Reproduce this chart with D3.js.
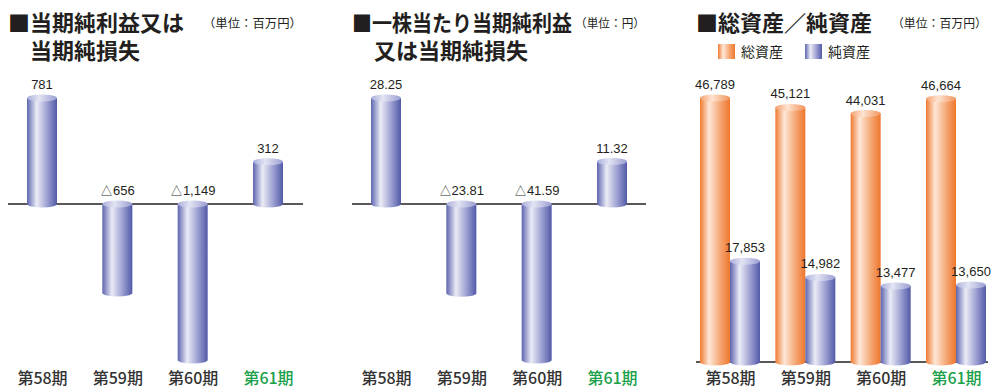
<!DOCTYPE html>
<html lang="ja">
<head>
<meta charset="utf-8">
<script src="https://cdn.jsdelivr.net/npm/d3@7"></script>
<style>
  html, body { margin: 0; padding: 0; background: #fff; }
  svg { display: block; }
  .title { font-family: "Noto Sans CJK JP", sans-serif; font-weight: 700; fill: #231f20; }
  .unit { font-family: "Noto Sans CJK JP", sans-serif; font-weight: 400; fill: #231f20; }
  .val { font-family: "Liberation Sans", Arial, sans-serif; font-size: 13px; fill: #231f20; }
  .cat text { font-family: "Noto Sans CJK JP", sans-serif; font-size: 16px; font-weight: 500; fill: #333; }
</style>
</head>
<body>
<svg id="chart" width="992" height="388"></svg>
<script>
// categories / periods
const periods = ['第58期', '第59期', '第60期', '第61期'];
const currentPeriod = '第61期';

// 当期純利益又は当期純損失 (百万円)
const netIncome = [781, -656, -1149, 312];
// 一株当たり当期純利益又は当期純損失 (円)
const eps = [28.25, -23.81, -41.59, 11.32];
// 総資産 / 純資産 (百万円)
const totalAssets = [46789, 45121, 44031, 46664];
const netAssets = [17853, 14982, 13477, 13650];

const svg = d3.select('#chart');
const defs = svg.append('defs');

// horizontal gradients for cylinder bodies and caps
function gradient(id, stops) {
  const g = defs.append('linearGradient').attr('id', id)
    .attr('x1', 0).attr('x2', 1).attr('y1', 0).attr('y2', 0);
  stops.forEach(([o, c]) => g.append('stop').attr('offset', o).attr('stop-color', c));
}
gradient('blueBody', [[0, '#5d65ae'], [0.32, '#ebebf6'], [0.7, '#969ace'], [1, '#525aa7']]);
gradient('blueCap', [[0, '#a9addb'], [0.4, '#e3e4f3'], [1, '#9a9ed1']]);
gradient('orangeBody', [[0, '#ef7a30'], [0.3, '#fde7d8'], [0.7, '#f5a36e'], [1, '#ee772c']]);
gradient('orangeCap', [[0, '#f5a16e'], [0.4, '#fde3d1'], [1, '#f1955b']]);

const fmt = d3.format(',');
const fmt2 = d3.format(',.2f');
const RX = 15, RY = 3.5;

/**
 * Draw a single cylinder from yCap (the cap end) to yEnd (the rounded far end)
 */
function cylinder(g, cx, yCap, yEnd, body, cap) {
  const x0 = cx - RX, x1 = cx + RX;
  const top = Math.min(yCap, yEnd), bot = Math.max(yCap, yEnd);
  g.append('path')
    .attr('d', `M${x0},${top} V${bot} A${RX},${RY} 0 0 0 ${x1},${bot} V${top} Z`)
    .attr('fill', `url(#${body})`);
  g.append('ellipse')
    .attr('cx', cx).attr('cy', top)
    .attr('rx', RX).attr('ry', RY)
    .attr('fill', `url(#${cap})`);
}

function valueLabel(g, cx, y, text) {
  g.append('text').attr('class', 'val')
    .attr('x', cx).attr('y', y)
    .attr('text-anchor', 'middle')
    .text(text);
}

function categoryAxis(x, y) {
  const ax = svg.append('g').attr('class', 'cat')
    .attr('transform', `translate(0,${y})`)
    .call(d3.axisBottom(x).tickSize(0).tickPadding(0));
  ax.select('.domain').remove();
  ax.selectAll('text').attr('dy', 0)
    .style('fill', d => d === currentPeriod ? '#1a9f4a' : '#333');
}

function title(x, y, size, text, cls) {
  return svg.append('text').attr('class', cls || 'title')
    .attr('x', x).attr('y', y)
    .style('font-size', size + 'px')
    .text(text);
}

function unit(x, y, width, text) {
  return title(x, y, 12, text, 'unit')
    .attr('textLength', width).attr('lengthAdjust', 'spacingAndGlyphs');
}

/**
 * Single series chart with positive / negative cylinders
 */
function signedChart(values, xRange, lineRange, format) {
  const x = d3.scalePoint().domain(periods).range(xRange);
  const y = d3.scaleLinear().domain([d3.min(values), d3.max(values)]).range([360, 98]);
  const y0 = y(0);

  svg.append('line')
    .attr('x1', lineRange[0]).attr('x2', lineRange[1])
    .attr('y1', y0).attr('y2', y0)
    .attr('stroke', '#231f20').attr('stroke-width', 1.3);

  const g = svg.append('g');
  values.forEach((v, i) => {
    const cx = x(periods[i]);
    if (v >= 0) {
      cylinder(g, cx, y(v), y0, 'blueBody', 'blueCap');
      valueLabel(g, cx, y(v) - 9, format(v));
    } else {
      cylinder(g, cx, y0, y(v), 'blueBody', 'blueCap');
      valueLabel(g, cx, y0 - 9, '△' + format(-v));
    }
  });
  categoryAxis(x, 384);
}

// ---- chart 1
title(8, 31, 22, '■当期純利益又は');
title(30, 59, 22, '当期純損失');
unit(203, 28, 99, '（単位：百万円）');
signedChart(netIncome, [42, 268], [8, 303], fmt);

// ---- chart 2
title(352, 31, 22, '■一株当たり当期純利益').attr('textLength', 220).attr('lengthAdjust', 'spacingAndGlyphs');
title(374, 59, 22, '又は当期純損失');
unit(575, 28, 70, '（単位：円）');
signedChart(eps, [386, 612], [352, 646], fmt2);

// ---- chart 3
title(696, 31, 22, '■総資産／純資産');
unit(892, 28, 95, '（単位：百万円）');

const legend = [['総資産', 'orangeBody', 718], ['純資産', 'blueBody', 805]];
legend.forEach(([name, fill, lx]) => {
  svg.append('rect').attr('x', lx).attr('y', 44).attr('width', 17).attr('height', 15)
    .attr('fill', `url(#${fill})`);
  svg.append('text').attr('class', 'unit').attr('x', lx + 23).attr('y', 57)
    .style('font-size', '14px').text(name);
});

const x3 = d3.scalePoint().domain(periods).range([730, 956]);
const y3 = d3.scaleLinear().domain([0, d3.max(totalAssets)]).range([362, 98]);

svg.append('line')
  .attr('x1', 696).attr('x2', 988)
  .attr('y1', y3(0)).attr('y2', y3(0))
  .attr('stroke', '#231f20').attr('stroke-width', 1.3);

const g3 = svg.append('g');
periods.forEach((p, i) => {
  const cx = x3(p);
  cylinder(g3, cx - 15, y3(totalAssets[i]), y3(0), 'orangeBody', 'orangeCap');
  valueLabel(g3, cx - 15, y3(totalAssets[i]) - 9, fmt(totalAssets[i]));
  cylinder(g3, cx + 15, y3(netAssets[i]), y3(0), 'blueBody', 'blueCap');
  valueLabel(g3, cx + 15, y3(netAssets[i]) - 9, fmt(netAssets[i]));
});
categoryAxis(x3, 384);
</script>
</body>
</html>
